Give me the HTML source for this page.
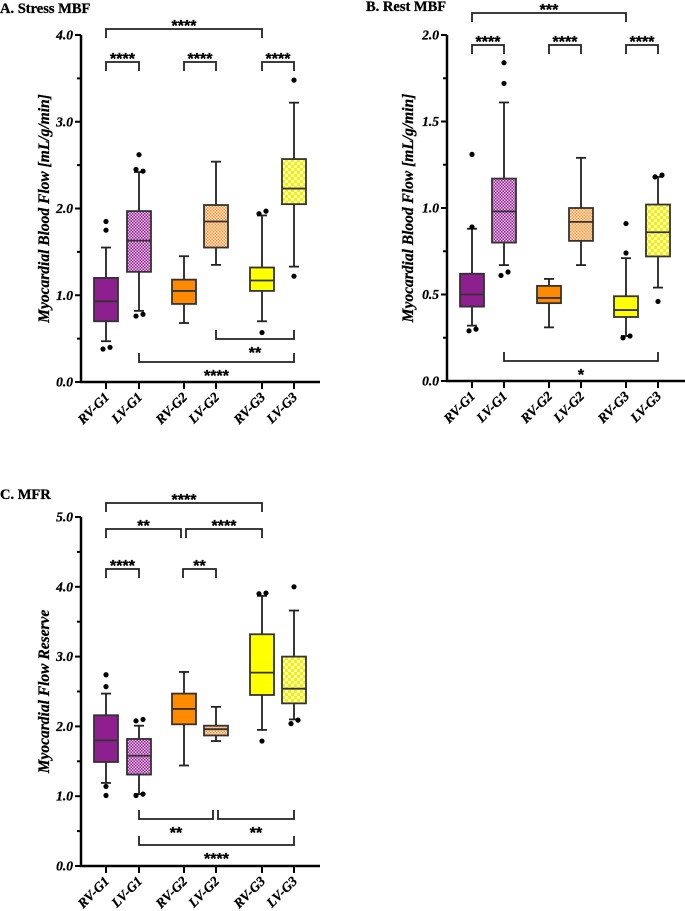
<!DOCTYPE html>
<html><head><meta charset="utf-8">
<style>
html,body{margin:0;padding:0;background:#fff;}
svg{display:block;font-family:"Liberation Serif",serif;}
</style></head>
<body>
<svg id="fig" width="685" height="911" viewBox="0 0 685 911" xmlns="http://www.w3.org/2000/svg">
<defs>
<pattern id="chk-purple" width="3" height="3" patternUnits="userSpaceOnUse"><rect width="3" height="3" fill="#f2c8f2"/><rect width="1.5" height="1.5" fill="#8e1f8e"/><rect x="1.5" y="1.5" width="1.5" height="1.5" fill="#8e1f8e"/></pattern>
<pattern id="chk-orange" width="3" height="3" patternUnits="userSpaceOnUse"><rect width="3" height="3" fill="#ffe0c0"/><rect width="1.5" height="1.5" fill="#f59a45"/><rect x="1.5" y="1.5" width="1.5" height="1.5" fill="#f59a45"/></pattern>
<pattern id="chk-yellow" width="6" height="6" patternUnits="userSpaceOnUse"><rect width="6" height="6" fill="#ffffc0"/><rect width="3" height="3" fill="#f5f000"/><rect x="3" y="3" width="3" height="3" fill="#f5f000"/></pattern>
</defs>
<text x="0" y="13" font-size="14.5" font-weight="bold" stroke="#000" stroke-width="0.3">A. Stress MBF</text>
<text x="366" y="11" font-size="14.5" font-weight="bold" stroke="#000" stroke-width="0.3">B. Rest MBF</text>
<text x="0" y="499" font-size="14.5" font-weight="bold" stroke="#000" stroke-width="0.3">C. MFR</text>
</svg>
<script>
const categories = ["RV-G1","LV-G1","RV-G2","LV-G2","RV-G3","LV-G3"];
// [whiskerLow, q1, median, q3, whiskerHigh]
const stressBoxes = [[0.47,0.70,0.93,1.20,1.55],[0.82,1.27,1.63,1.97,2.42],[0.68,0.90,1.05,1.18,1.45],[1.35,1.55,1.85,2.04,2.54],[0.70,1.05,1.17,1.32,1.92],[1.33,2.05,2.23,2.57,3.22]];
const stressOutliers = [[1.85,1.75,0.38,0.40],[2.62,2.45,2.43,0.76,0.78],[],[],[1.94,1.97,0.57],[3.48,1.22]];
const restBoxes = [[0.32,0.43,0.50,0.62,0.88],[0.67,0.80,0.98,1.17,1.61],[0.31,0.45,0.48,0.55,0.59],[0.67,0.81,0.92,1.00,1.29],[0.26,0.37,0.41,0.49,0.71],[0.54,0.72,0.86,1.02,1.18]];
const restOutliers = [[1.31,0.89,0.29,0.30],[1.84,1.72,0.61,0.63],[],[],[0.91,0.74,0.25,0.26],[1.18,1.19,0.46]];
const mfrBoxes = [[1.19,1.49,1.80,2.16,2.47],[1.03,1.31,1.58,1.82,2.01],[1.44,2.03,2.25,2.47,2.78],[1.79,1.87,1.96,2.01,2.28],[1.95,2.45,2.77,3.32,3.87],[2.10,2.33,2.54,3.00,3.66]];
const mfrOutliers = [[2.74,2.57,1.14,1.01],[2.08,2.10,1.01,1.03],[],[],[3.90,3.91,1.79],[4.00,2.04,2.09]];
const stressTicks = ["0.0","1.0","2.0","3.0","4.0"];
const restTicks = ["0.0","0.5","1.0","1.5","2.0"];
const mfrTicks = ["0.0","1.0","2.0","3.0","4.0","5.0"];
const fills = ["#8e1f8e","url(#chk-purple)","#ff8a00","url(#chk-orange)","#ffff00","url(#chk-yellow)"];

const NS = "http://www.w3.org/2000/svg";
const svg = document.getElementById("fig");
function mk(tag, attrs, parent){const e=document.createElementNS(NS,tag);for(const k in attrs)e.setAttribute(k,attrs[k]);(parent||svg).appendChild(e);return e;}

function panel(cfg){
  const g = mk("g",{});
  
  
  const y = v => cfg.y0 - (v/cfg.max)*(cfg.y0-cfg.yTop);
  const x = i => cfg.xs[i];
  const ya = mk("line",{x1:cfg.ax,y1:cfg.yTop,x2:cfg.ax,y2:cfg.y0+1,stroke:"#000","stroke-width":2.5},g);
  
  
  const xa = mk("line",{x1:cfg.ax-1,y1:cfg.y0,x2:cfg.axEnd,y2:cfg.y0,stroke:"#000","stroke-width":2.5},g);
  
  
  const nT = cfg.ticks.length;
  for(let i=0;i<nT;i++){
    const v = parseFloat(cfg.ticks[i]);
    mk("line",{x1:cfg.ax-6,x2:cfg.ax,y1:y(v),y2:y(v),stroke:"#000","stroke-width":2},g);
    const t = mk("text",{x:cfg.ax-8,y:y(v)+4.5,"text-anchor":"end","font-size":13.5,"font-weight":"bold","font-style":"italic",stroke:"#000","stroke-width":0.3},g);
    t.textContent = cfg.ticks[i];
    
    
    if(i<nT-1){const m=(v+parseFloat(cfg.ticks[i+1]))/2;mk("line",{x1:cfg.ax-4,x2:cfg.ax,y1:y(m),y2:y(m),stroke:"#000","stroke-width":2},g);}
  }
  const yt = mk("text",{transform:`translate(${cfg.titleX},${(cfg.y0+cfg.yTop)/2}) rotate(-90)`,"text-anchor":"middle","font-size":15.5,"font-weight":"bold","font-style":"italic",stroke:"#000","stroke-width":0.3},g);
  yt.textContent = cfg.ytitle;
  
  
  const hw = 12;
  for(let i=0;i<categories.length;i++){
    const cx=x(i), b=cfg.boxes[i];
    mk("line",{x1:cx,x2:cx,y1:cfg.y0,y2:cfg.y0+7,stroke:"#000","stroke-width":2},g);
    const lab = mk("text",{transform:`translate(${cx+4},${cfg.y0+16}) rotate(-45)`,"text-anchor":"end","font-size":13.5,"font-weight":"bold","font-style":"italic",stroke:"#000","stroke-width":0.3},g);
    lab.textContent = categories[i];
    
    
    const bg = mk("g",{},g);
    
    
    mk("line",{x1:cx,x2:cx,y1:y(b[0]),y2:y(b[1]),stroke:"#222","stroke-width":1.8},bg);
    mk("line",{x1:cx,x2:cx,y1:y(b[3]),y2:y(b[4]),stroke:"#222","stroke-width":1.8},bg);
    mk("line",{x1:cx-5,x2:cx+5,y1:y(b[0]),y2:y(b[0]),stroke:"#222","stroke-width":1.8},bg);
    mk("line",{x1:cx-5,x2:cx+5,y1:y(b[4]),y2:y(b[4]),stroke:"#222","stroke-width":1.8},bg);
    mk("rect",{x:cx-hw,y:y(b[3]),width:hw*2,height:y(b[1])-y(b[3]),fill:fills[i],stroke:"#333","stroke-width":1.8},bg);
    mk("line",{x1:cx-hw,x2:cx+hw,y1:y(b[2]),y2:y(b[2]),stroke:"#333","stroke-width":1.8},bg);
    const outs = cfg.outs[i];
    for(let j=0;j<outs.length;j++){
      const near = outs.filter((o,k)=>k<j && Math.abs(o-outs[j])<0.06*cfg.max/4).length;
      const d = mk("circle",{cx:cx-3+near*7+(outs.filter(o=>Math.abs(o-outs[j])<0.06*cfg.max/4).length===1?3:0),cy:y(outs[j]),r:2.6,fill:"#000"},bg);
      
      
    }
  }
  for(const br of cfg.brackets){
    const [a,b2,yy,dir,label] = br;
    const x1=x(a)+(br[5]||0), x2=x(b2)+(br[6]||0);
    const p = mk("path",{d:`M${x1},${yy+dir*9} V${yy} H${x2} V${yy+dir*9}`,fill:"none",stroke:"#222","stroke-width":1.8},g);
    
    
    const t = mk("text",{x:(x1+x2)/2,y:dir>0?yy+2:yy+19,"text-anchor":"middle","font-size":16,"font-weight":"bold","font-family":"Liberation Sans, sans-serif",stroke:"#000","stroke-width":0.3},g);
    t.textContent = label;
    
    
  }
}

panel({name:"panel-a-stress-mbf",ax:81,axEnd:320,yTop:35,y0:382,max:4,ticks:stressTicks,ytitle:"Myocardial Blood Flow [mL/g/min]",titleX:49,
  xs:[106,139,184,216,262,294],boxes:stressBoxes,outs:stressOutliers,
  brackets:[[0,4,29,1,"****"],[0,1,62,1,"****"],[2,3,62,1,"****"],[4,5,62,1,"****"],[3,5,339,-1,"**"],[1,5,362,-1,"****"]]});
panel({name:"panel-b-rest-mbf",ax:447,axEnd:685,yTop:35,y0:381,max:2,ticks:restTicks,ytitle:"Myocardial Blood Flow [mL/g/min]",titleX:413,
  xs:[472,504,549,581,626,658],boxes:restBoxes,outs:restOutliers,
  brackets:[[0,4,13,1,"***"],[0,1,45,1,"****"],[2,3,45,1,"****"],[4,5,45,1,"****"],[1,5,361,-1,"*"]]});
panel({name:"panel-c-mfr",ax:81,axEnd:320,yTop:517,y0:866,max:5,ticks:mfrTicks,ytitle:"Myocardial Flow Reserve",titleX:49,
  xs:[106,139,184,216,262,294],boxes:mfrBoxes,outs:mfrOutliers,
  brackets:[[0,4,503,1,"****"],[0,2,529,1,"**",0,-3],[2,4,529,1,"****",2,0],[0,1,569,1,"****"],[2,3,569,1,"**",-1,0],[1,3,819,-1,"**",0,-3],[3,5,819,-1,"**",2,0],[1,5,845,-1,"****"]]});
</script>
</body></html>
